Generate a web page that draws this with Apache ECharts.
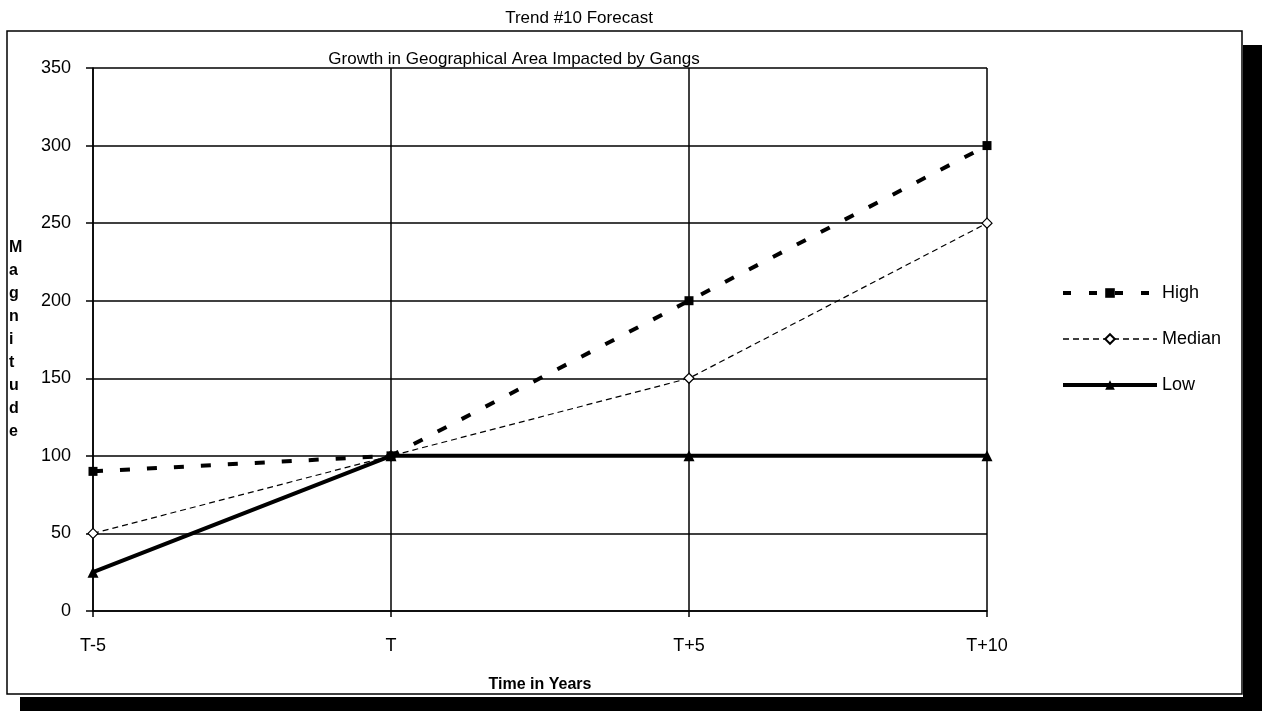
<!DOCTYPE html>
<html>
<head>
<meta charset="utf-8">
<script src="https://cdn.jsdelivr.net/npm/echarts@6/dist/echarts.min.js"></script>
<style>
html,body{margin:0;padding:0;background:#fff;}
#c{width:1262px;height:711px;}
</style>
</head>
<body>
<div id="c"></div>
<script>
const categories = ['T-5', 'T', 'T+5', 'T+10'];
const highValues = [90, 100, 200, 300];
const medianValues = [50, 100, 150, 250];
const lowValues = [25, 100, 100, 100];
const yTicks = [0, 50, 100, 150, 200, 250, 300, 350];

const FONT = '"Liberation Sans", Arial, Helvetica, sans-serif';
const chart = echarts.init(document.getElementById('c'), null, {renderer: 'canvas'});

chart.setOption({
  backgroundColor: '#ffffff',
  animation: false,
  textStyle: {fontFamily: FONT, color: '#000'},
  title: [
    {text: 'Trend #10 Forecast', left: 574, top: 5, textAlign: 'center',
     textStyle: {fontFamily: FONT, fontSize: 17, fontWeight: 'normal', color: '#000'}},
    {text: 'Growth in Geographical Area Impacted by Gangs', left: 509, top: 46, textAlign: 'center',
     textStyle: {fontFamily: FONT, fontSize: 17, fontWeight: 'normal', color: '#000'}}
  ],
  grid: {left: 93, right: 275, top: 68, bottom: 100, containLabel: false},
  legend: {
    orient: 'vertical', left: 1056, top: 279, itemGap: 28,
    itemWidth: 94, itemHeight: 12,
    textStyle: {fontFamily: FONT, fontSize: 18, color: '#000'},
    data: [
      {name: 'High', lineStyle: {width: 4, type: [8, 18]}},
      {name: 'Median', lineStyle: {width: 1.5, type: [6, 4]}},
      {name: 'Low', lineStyle: {width: 4, type: 'solid'}}
    ]
  },
  xAxis: {
    type: 'category', data: categories, boundaryGap: false,
    name: 'Time in Years', nameLocation: 'middle', nameGap: 66,
    nameTextStyle: {fontFamily: FONT, fontSize: 16, fontWeight: 'bold', color: '#000'},
    axisLine: {lineStyle: {color: '#000', width: 1.5}},
    axisTick: {show: true, length: 6, inside: false, lineStyle: {color: '#000', width: 1.5}},
    axisLabel: {fontFamily: FONT, fontSize: 18, color: '#000', margin: 26},
    splitLine: {show: true, lineStyle: {color: '#000', width: 1.5}}
  },
  yAxis: {
    type: 'value', min: 0, max: 350, interval: 50,
    axisLine: {show: true, lineStyle: {color: '#000', width: 1.5}},
    axisTick: {show: true, length: 7, lineStyle: {color: '#000', width: 1.5}},
    axisLabel: {fontFamily: FONT, fontSize: 18, color: '#000', margin: 22,
      formatter: function (v) { return yTicks.indexOf(v) >= 0 ? String(v) : ''; }},
    splitLine: {show: true, lineStyle: {color: '#000', width: 1.5}}
  },
  graphic: [
    {type: 'rect', shape: {x: 7, y: 31, width: 1235, height: 663},
     style: {fill: 'none', stroke: '#000', lineWidth: 1.5}, z: -10, silent: true},
    {type: 'rect', shape: {x: 1243, y: 45, width: 19, height: 666},
     style: {fill: '#000'}, silent: true},
    {type: 'rect', shape: {x: 20, y: 697, width: 1242, height: 14},
     style: {fill: '#000'}, silent: true},
    {type: 'text', left: 9, top: 236,
     style: {text: 'M\na\ng\nn\ni\nt\nu\nd\ne', fontFamily: FONT, fontSize: 16, fontWeight: 'bold',
       fill: '#000', lineHeight: 23, align: 'center', width: 14}}
  ],
  series: [
    {name: 'High', type: 'line', data: highValues, symbol: 'rect', symbolSize: 9,
     itemStyle: {color: '#000', borderWidth: 0},
     lineStyle: {color: '#000', width: 4, type: [10, 17]}, z: 4},
    {name: 'Median', type: 'line', data: medianValues, symbol: 'diamond', symbolSize: 10,
     itemStyle: {color: '#fff', borderColor: '#000', borderWidth: 1.2},
     lineStyle: {color: '#000', width: 1.2, type: [6, 4]}, z: 3},
    {name: 'Low', type: 'line', data: lowValues, symbol: 'triangle', symbolSize: 11,
     itemStyle: {color: '#000', borderWidth: 0},
     lineStyle: {color: '#000', width: 4, type: 'solid'}, z: 2}
  ]
});
</script>
</body>
</html>
